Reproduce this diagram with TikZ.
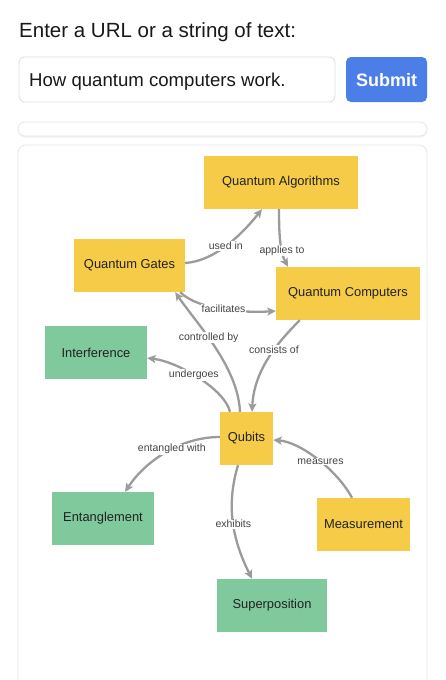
\documentclass[tikz,border=0pt]{standalone}
\usepackage{fontspec}
\setmainfont{Liberation Sans}
\usetikzlibrary{arrows.meta}
\definecolor{ylw}{HTML}{F5CB47}
\definecolor{grn}{HTML}{80C99C}
\definecolor{edgegray}{HTML}{9B9B9B}
\definecolor{btnblue}{HTML}{4B7EE6}
\definecolor{lbl}{HTML}{444444}
\definecolor{cardline}{HTML}{E6E6E6}
\definecolor{nodetext}{HTML}{222222}
\begin{document}
\begin{tikzpicture}[x=1pt,y=-1pt,
  concept/.style={draw=none, minimum height=53pt, inner sep=0pt, text=nodetext, font=\fontsize{12.9}{15}\selectfont},
  yel/.style={concept, fill=ylw},
  grnb/.style={concept, fill=grn},
  rel/.style={draw=edgegray, line width=2.3pt, -{Stealth[length=8.5pt,width=8pt,inset=2pt]}},
  lab/.style={fill=white, inner sep=0.8pt, text=lbl, font=\fontsize{10.5}{12}\selectfont},
  card/.style={draw=cardline, line width=0.8pt, fill=white}
]
\useasboundingbox (0,0) rectangle (445,680);
\fill[white] (0,0) rectangle (445,680);

% header
\node[anchor=base west, inner sep=0pt, font=\fontsize{20.5}{23}\selectfont, text=black!90] (title) at (19,37) {Enter a URL or a string of text:};
\draw[draw=black!13, line width=0.8pt, rounded corners=6pt, fill=white] (19,57) rectangle (335,102);
\node[anchor=base west, inner sep=0pt, font=\fontsize{18.6}{22}\selectfont, text=black!90] (query) at (29,86) {How quantum computers work.};
\fill[btnblue, rounded corners=5pt] (346,57) rectangle (427,102);
\node[font=\bfseries\fontsize{18}{22}\selectfont, text=white, inner sep=0pt] (submit) at (386.5,80) {Submit};

% thin card
\fill[black!5, rounded corners=7pt] (18,123.5) rectangle (427,137.5);
\draw[card, rounded corners=7pt] (18,122) rectangle (427,136);

% main card
\draw[card, rounded corners=8pt] (18,684) -- (18,145) -- (427,145) -- (427,684);

% concept nodes
\node[yel, minimum width=154pt] (qa) at (281,182.5) {Quantum Algorithms};
\node[yel, minimum width=111pt] (qg) at (129.5,265.5) {Quantum Gates};
\node[yel, minimum width=144pt] (qc) at (348,293.5) {Quantum Computers};
\node[grnb, minimum width=102pt] (inter) at (96,352.5) {Interference};
\node[yel, minimum width=53pt] (qub) at (246.5,438.5) {Qubits};
\node[grnb, minimum width=102pt] (ent) at (103,518.5) {Entanglement};
\node[yel, minimum width=93pt] (meas) at (363.5,524.5) {Measurement};
\node[grnb, minimum width=110pt] (sup) at (272,605.5) {Superposition};

% relations
\draw[rel] ([yshift=2.5pt]qg.east) .. controls +(30,-2) and +(-20,25) .. ([xshift=-19pt]qa.south)
  node[lab, pos=0.48] {used in};
\draw[rel] ([xshift=-2pt]qa.south) .. controls +(0,25) and +(-8,-15) .. ([xshift=-60pt]qc.north)
  node[lab, pos=0.66] {applies to};
\draw[rel] ([xshift=-5pt]qg.south east) .. controls +(18,18) and +(-30,2) .. ([yshift=-17.5pt]qc.west)
  node[lab, pos=0.5] {facilitates};
\draw[rel] ([xshift=-6.5pt]qub.north) .. controls +(-2,-45) and +(22,32) .. ([xshift=-10pt]qg.south east)
  node[lab, pos=0.58] {controlled by};
\draw[rel] ([xshift=24pt]qc.south west) .. controls +(-25,25) and +(2,-40) .. ([xshift=5.5pt]qub.north)
  node[lab, pos=0.38] {consists of};
\draw[rel] ([xshift=-16.5pt]qub.north) .. controls +(-5,-22) and +(32,4) .. ([yshift=-5.5pt]inter.east)
  node[lab, pos=0.55] {undergoes};
\draw[rel] ([yshift=1.5pt]qub.west) .. controls +(-40,0) and +(20,-30) .. ([xshift=22pt]ent.north)
  node[lab, pos=0.43] {entangled with};
\draw[rel] ([xshift=-11.5pt]meas.north) .. controls +(-15,-28) and +(27,2) .. ([yshift=-1.5pt]qub.east)
  node[lab, pos=0.46] {measures};
\draw[rel] ([xshift=-8.5pt]qub.south) .. controls +(-12,40) and +(-20,-40) .. ([xshift=-20pt]sup.north)
  node[lab, pos=0.52] {exhibits};
\end{tikzpicture}
\end{document}
